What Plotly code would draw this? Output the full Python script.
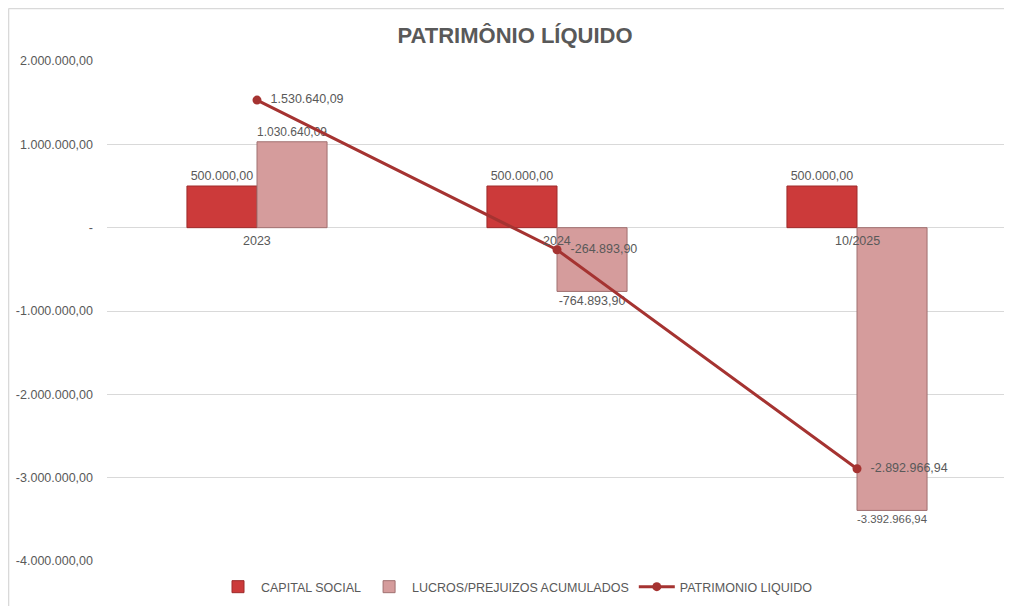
import plotly.graph_objects as go

categories = ["2023", "2024", "10/2025"]
capital_social = [500000.00, 500000.00, 500000.00]
lucros_prejuizos = [1030640.09, -764893.90, -3392966.94]
patrimonio_liquido = [1530640.09, -264893.90, -2892966.94]
tick_values = [2000000, 1000000, 0, -1000000, -2000000, -3000000, -4000000]


def fmt_br(v):
    if v == 0:
        return "-"
    s = f"{abs(v):,.2f}".replace(",", "X").replace(".", ",").replace("X", ".")
    return ("-" if v < 0 else "") + s


tick_text = [fmt_br(v) for v in tick_values]

FONT = "Liberation Sans, Arial, sans-serif"
GRAY = "#595959"
FS = 12.5

fig = go.Figure()

fig.add_trace(go.Bar(
    x=categories, y=capital_social, name="CAPITAL SOCIAL",
    marker=dict(color="#CC3A3A", line=dict(color="#9E2A2A", width=1)),
    text=[fmt_br(v) for v in capital_social], textposition="outside",
    textfont=dict(family=FONT, size=FS, color=GRAY), cliponaxis=False,
))
fig.add_trace(go.Bar(
    x=categories, y=lucros_prejuizos, name="LUCROS/PREJUIZOS ACUMULADOS",
    marker=dict(color="#D59C9C", line=dict(color="#A07070", width=1)),
    text=[fmt_br(v) for v in lucros_prejuizos], textposition="outside",
    textfont=dict(family=FONT, size=FS, color=GRAY), cliponaxis=False,
))
fig.add_trace(go.Scatter(
    x=categories, y=patrimonio_liquido, name="PATRIMONIO LIQUIDO",
    mode="lines+markers+text",
    line=dict(color="#A53331", width=3),
    marker=dict(color="#A53331", size=9),
    text=["  " + fmt_br(v) for v in patrimonio_liquido], textposition="middle right",
    textfont=dict(family=FONT, size=FS, color=GRAY), cliponaxis=False,
))

# category labels next to the zero line (category index positions)
for i, c in enumerate(categories):
    fig.add_annotation(x=i, y=0, xref="x", yref="y", text=c, showarrow=False,
                       yshift=-13, font=dict(family=FONT, size=FS, color=GRAY))

# chart border (top and left edges of the chart area)
fig.add_shape(type="line", xref="paper", yref="paper", x0=-0.1094, x1=1.01, y0=1.1048, y1=1.1048,
              line=dict(color="#D9D9D9", width=1.5))
fig.add_shape(type="line", xref="paper", yref="paper", x0=-0.1094, x1=-0.1094, y0=-0.1, y1=1.1048,
              line=dict(color="#D9D9D9", width=1.5))

fig.update_layout(
    width=1004, height=598,
    margin=dict(l=99, r=5, t=53, b=44),
    paper_bgcolor="white", plot_bgcolor="white",
    barmode="group", bargap=0.533, bargroupgap=0,
    title=dict(text="<b>PATRIMÔNIO LÍQUIDO</b>", x=0.505, xanchor="center", y=0.955, yanchor="middle",
               font=dict(family=FONT, size=22, color=GRAY)),
    font=dict(family=FONT, size=FS, color=GRAY),
    showlegend=True,
    legend=dict(orientation="h", x=0.455, xanchor="center", y=-0.05, yanchor="middle",
                font=dict(family=FONT, size=FS, color=GRAY), itemwidth=36,
                traceorder="normal"),
)
fig.update_xaxes(type="category", range=[-0.5, 2.5], showticklabels=False, showgrid=False,
                 zeroline=False, showline=False, ticks="")
fig.update_yaxes(range=[-4000000, 2000000], tickvals=tick_values, ticktext=tick_text,
                 showgrid=True, gridcolor="#D9D9D9", gridwidth=1, zeroline=True,
                 zerolinecolor="#D9D9D9", zerolinewidth=1, showline=False,
                 ticks="", ticklabelstandoff=13,
                 tickfont=dict(family=FONT, size=FS, color=GRAY))

fig.write_html("out.html")
